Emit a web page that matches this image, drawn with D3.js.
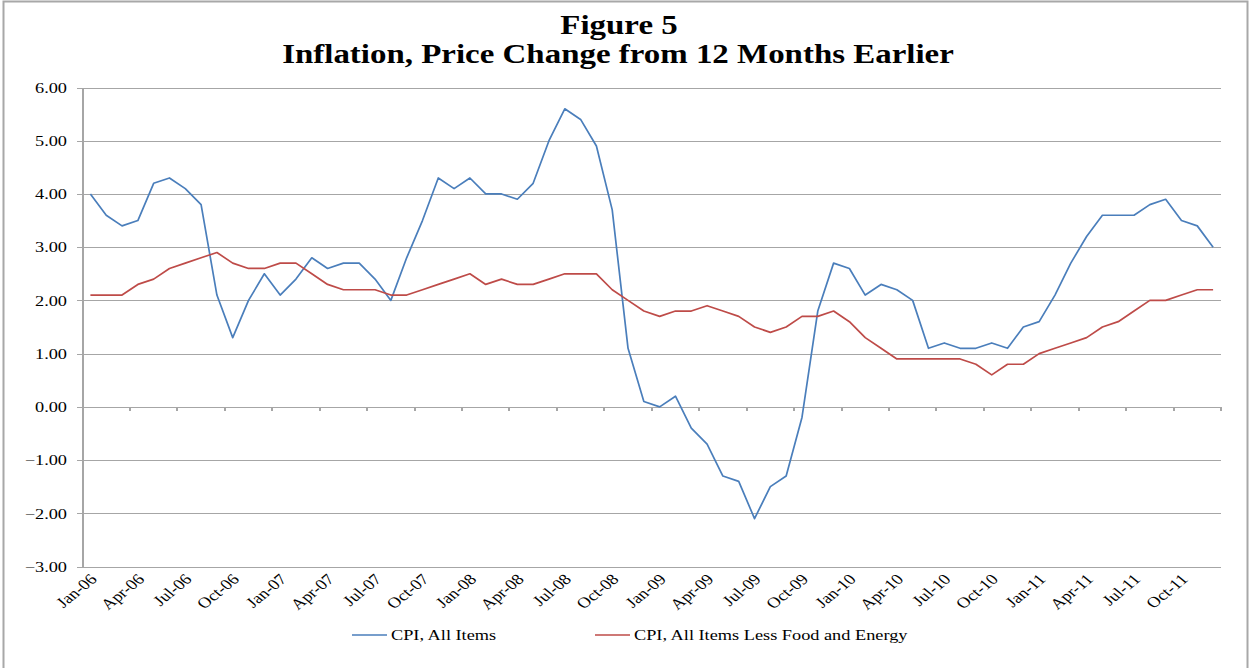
<!DOCTYPE html>
<html>
<head>
<meta charset="utf-8">
<script src="https://cdnjs.cloudflare.com/ajax/libs/d3/7.8.5/d3.min.js"></script>
<style type='text/css'>
  body { margin: 0; background: #fff; }
  svg text { font-family: "Liberation Serif", "Times New Roman", serif; fill: #000; }
  .grid line { stroke: #a6a6a6; stroke-width: 1.3; shape-rendering: crispEdges; }
  .series { fill: none; stroke-width: 1.7; stroke-linejoin: round; }
</style>
</head>
<body>
<div id='chart'></div>
<script type='text/javascript'>
var monthNames = ['Jan','Feb','Mar','Apr','May','Jun','Jul','Aug','Sep','Oct','Nov','Dec'];
var years = ['06','07','08','09','10','11'];

// CPI, All Items, % change from 12 months earlier
var cpiAll = [
  4.0, 3.6, 3.4, 3.5, 4.2, 4.3, 4.1, 3.8, 2.1, 1.3, 2.0, 2.5,
  2.1, 2.4, 2.8, 2.6, 2.7, 2.7, 2.4, 2.0, 2.8, 3.5, 4.3, 4.1,
  4.3, 4.0, 4.0, 3.9, 4.2, 5.0, 5.6, 5.4, 4.9, 3.7, 1.1, 0.1,
  0.0, 0.2, -0.4, -0.7, -1.3, -1.4, -2.1, -1.5, -1.3, -0.2, 1.8, 2.7,
  2.6, 2.1, 2.3, 2.2, 2.0, 1.1, 1.2, 1.1, 1.1, 1.2, 1.1, 1.5,
  1.6, 2.1, 2.7, 3.2, 3.6, 3.6, 3.6, 3.8, 3.9, 3.5, 3.4, 3.0
];
// CPI, All Items Less Food and Energy
var cpiCore = [
  2.1, 2.1, 2.1, 2.3, 2.4, 2.6, 2.7, 2.8, 2.9, 2.7, 2.6, 2.6,
  2.7, 2.7, 2.5, 2.3, 2.2, 2.2, 2.2, 2.1, 2.1, 2.2, 2.3, 2.4,
  2.5, 2.3, 2.4, 2.3, 2.3, 2.4, 2.5, 2.5, 2.5, 2.2, 2.0, 1.8,
  1.7, 1.8, 1.8, 1.9, 1.8, 1.7, 1.5, 1.4, 1.5, 1.7, 1.7, 1.8,
  1.6, 1.3, 1.1, 0.9, 0.9, 0.9, 0.9, 0.9, 0.8, 0.6, 0.8, 0.8,
  1.0, 1.1, 1.2, 1.3, 1.5, 1.6, 1.8, 2.0, 2.0, 2.1, 2.2, 2.2
];
var yTicks = [-3, -2, -1, 0, 1, 2, 3, 4, 5, 6];
var seriesNames = ['CPI, All Items', 'CPI, All Items Less Food and Energy'];
var seriesColors = ['#4a7ebb', '#be4b48'];

var months = [];
years.forEach(function(y) {
  monthNames.forEach(function(m) { months.push(m + '-' + y); });
});

var W = 1250, H = 668;
var SX = 1.22; // the source picture is stretched sideways
var plot = { left: 82.5, right: 1221, top: 87.5, bottom: 566.5 };

var svg = d3.select('#chart').append('svg')
  .attr('width', W)
  .attr('height', H);

// outer chart frame
svg.append('rect')
  .attr('x', 3.5).attr('y', 1.5)
  .attr('width', 1244).attr('height', 720)
  .attr('fill', 'none')
  .attr('stroke', '#a8a8a8')
  .attr('stroke-width', 2);

var x = d3.scaleBand().domain(months).range([plot.left, plot.right]);
var y = d3.scaleLinear().domain([-3, 6]).range([plot.bottom, plot.top]);
function cx(d) { return x(d) + x.bandwidth() / 2; }

function stretchText(sel, tx, ty) {
  return sel.attr('transform', 'translate(' + tx + ',' + ty + ') scale(' + SX + ',1)');
}

// title
var title = svg.append('g');
stretchText(title.append('text'), 619, 34)
  .attr('text-anchor', 'middle')
  .style('font-size', '27px').style('font-weight', 'bold')
  .text('Figure 5');
stretchText(title.append('text'), 618, 63)
  .attr('text-anchor', 'middle')
  .style('font-size', '27px').style('font-weight', 'bold')
  .text('Inflation, Price Change from 12 Months Earlier');

// horizontal gridlines with left ticks
var grid = svg.append('g').attr('class', 'grid');
grid.selectAll('line.h')
  .data(yTicks)
  .enter().append('line')
  .attr('class', 'h')
  .attr('x1', plot.left - 6)
  .attr('x2', plot.right)
  .attr('y1', function(d) { return Math.round(y(d)) + 0.5; })
  .attr('y2', function(d) { return Math.round(y(d)) + 0.5; });

// value axis line
grid.append('line')
  .attr('x1', plot.left).attr('x2', plot.left)
  .attr('y1', y(6)).attr('y2', y(-3))
  .style('stroke-width', 2);

// category axis at zero, ticks every 3 months
var tickIdx = d3.range(0, months.length + 1, 3);
grid.selectAll('line.t')
  .data(tickIdx)
  .enter().append('line')
  .attr('class', 't')
  .attr('x1', function(i) { return plot.left + i * x.step(); })
  .attr('x2', function(i) { return plot.left + i * x.step(); })
  .attr('y1', y(0))
  .attr('y2', y(0) + 4)
  .style('stroke-width', 2);

// y labels
svg.append('g').selectAll('text')
  .data(yTicks)
  .enter().append('text')
  .each(function(d) { stretchText(d3.select(this), 67, y(d)); })
  .attr('text-anchor', 'end')
  .attr('dy', '0.35em')
  .style('font-size', '15px')
  .text(function(d) { return d3.format('.2f')(d); });

// x labels
svg.append('g').selectAll('text')
  .data(months.filter(function(m, i) { return i % 3 === 0; }))
  .enter().append('text')
  .attr('transform', function(d) {
    return 'translate(' + (cx(d) + 3) + ',' + (plot.bottom + 10) + ') scale(' + SX + ',1) rotate(-45)';
  })
  .attr('text-anchor', 'end')
  .attr('dy', '0.35em')
  .style('font-size', '15px')
  .text(function(d) { return d; });

// series lines
var line = d3.line()
  .x(function(d, i) { return cx(months[i]); })
  .y(function(d) { return y(d); });

[cpiAll, cpiCore].forEach(function(vals, k) {
  svg.append('path')
    .datum(vals)
    .attr('class', 'series')
    .attr('stroke', seriesColors[k])
    .attr('d', line);
});

// legend
var legendX = [352, 595];
var leg = svg.append('g');
seriesNames.forEach(function(name, k) {
  leg.append('line')
    .attr('x1', legendX[k]).attr('x2', legendX[k] + 35)
    .attr('y1', 635).attr('y2', 635)
    .attr('stroke', seriesColors[k])
    .attr('stroke-width', 1.6);
  stretchText(leg.append('text'), legendX[k] + 39, 635)
    .attr('dy', '0.35em')
    .style('font-size', '15px')
    .text(name);
});
</script>
</body>
</html>
